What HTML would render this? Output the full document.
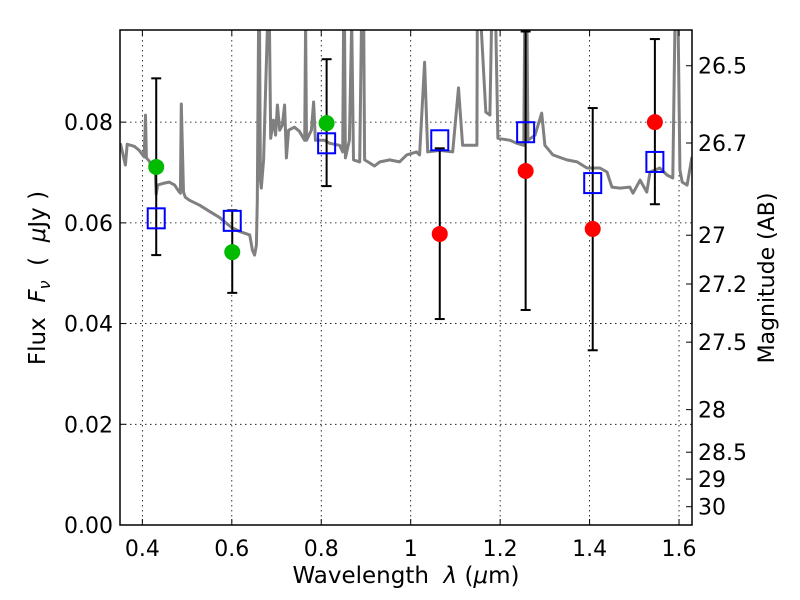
<!DOCTYPE html>
<html><head><meta charset="utf-8"><style>
html,body{margin:0;padding:0;background:#fff;}
svg{display:block;font-family:"DejaVu Sans","Liberation Sans",sans-serif;}
</style></head><body>
<svg id="chart" width="800" height="600" viewBox="0 0 800 600">
<defs><clipPath id="pc"><rect x="120" y="30" width="572" height="495"/></clipPath></defs>
<rect x="0" y="0" width="800" height="600" fill="#fff"/>
<g id="grid"></g>
<g id="spec" clip-path="url(#pc)"></g>
<g id="marks"></g>
<rect x="120" y="30" width="572" height="495" fill="none" stroke="#000" stroke-width="1.5"/>
<g id="axes"></g>
<text x="406" y="583" font-size="23" text-anchor="middle">Wavelength&#160;&#160;<tspan font-style="italic">λ</tspan> (<tspan font-style="italic">μ</tspan>m)</text>
<text transform="translate(45,278) rotate(-90)" font-size="23" text-anchor="middle">Flux&#160;&#160;<tspan font-style="italic">F</tspan><tspan font-style="italic" font-size="16" dy="5">ν</tspan><tspan dy="-5">&#160;&#160;(&#160;&#160;</tspan><tspan font-style="italic">μ</tspan>Jy )</text>
<text transform="translate(774,278) rotate(-90)" font-size="22" text-anchor="middle">Magnitude (AB)</text>
</svg>
<script>
const specLam=[0.351,0.362,0.366,0.382,0.393,0.404,0.407,0.409,0.416,0.422,0.429,0.431,0.434,0.449,0.460,0.472,0.481,0.485,0.487,0.492,0.496,0.505,0.528,0.550,0.572,0.599,0.617,0.640,0.646,0.651,0.655,0.657,0.660,0.662,0.664,0.666,0.671,0.675,0.680,0.684,0.687,0.693,0.698,0.702,0.707,0.713,0.718,0.722,0.727,0.740,0.751,0.763,0.765,0.767,0.778,0.783,0.787,0.807,0.819,0.841,0.848,0.850,0.852,0.854,0.863,0.868,0.872,0.886,0.890,0.895,0.897,0.908,0.919,0.931,0.953,0.975,0.991,1.013,1.020,1.031,1.038,1.065,1.094,1.107,1.116,1.148,1.149,1.157,1.168,1.177,1.181,1.190,1.195,1.222,1.237,1.253,1.255,1.260,1.262,1.278,1.293,1.300,1.318,1.349,1.372,1.394,1.423,1.439,1.450,1.468,1.490,1.497,1.513,1.528,1.535,1.557,1.573,1.586,1.591,1.598,1.602,1.607,1.618,1.629];
const specFlux=[0.0758,0.0715,0.0756,0.0752,0.0744,0.0731,0.0814,0.0729,0.0722,0.0702,0.0697,0.0657,0.0675,0.0679,0.0681,0.0675,0.0663,0.0659,0.0836,0.0661,0.0651,0.0645,0.0635,0.0623,0.0611,0.0591,0.0583,0.0576,0.0546,0.0536,0.0556,0.0645,0.1,0.1,0.0685,0.0669,0.0725,0.0844,0.1,0.1,0.0768,0.0804,0.0774,0.0834,0.0784,0.0794,0.0834,0.0729,0.0784,0.0790,0.0782,0.0764,0.1,0.0764,0.0784,0.0840,0.0764,0.0764,0.0758,0.0754,0.0741,0.1,0.1,0.0729,0.0764,0.1,0.0725,0.0721,0.1,0.1,0.0725,0.0719,0.0713,0.0721,0.0725,0.0721,0.0735,0.0741,0.0735,0.0919,0.0741,0.0744,0.0741,0.0868,0.0754,0.0754,0.1,0.1,0.0820,0.0814,0.1,0.1,0.0768,0.0764,0.0758,0.0754,0.1,0.1,0.0764,0.0774,0.0818,0.0754,0.0735,0.0725,0.0721,0.0709,0.0709,0.0701,0.0671,0.0669,0.0671,0.0659,0.0685,0.0661,0.0701,0.0709,0.0695,0.0689,0.1,0.1,0.0705,0.0681,0.0675,0.0731];
const bandLam=[0.431,0.601,0.812,1.065,1.257,1.407,1.546];
const obsFlux=[0.0711,0.0542,0.0798,0.0578,0.0703,0.0588,0.0800];
const obsColor=["#00bb00","#00bb00","#00bb00","#ff0000","#ff0000","#ff0000","#ff0000"];
const modelFlux=[0.0609,0.0604,0.0758,0.0764,0.0780,0.0679,0.0721];
const errLow=[0.0536,0.0461,0.0673,0.0409,0.0427,0.0347,0.0637];
const errHigh=[0.0887,0.0625,0.0925,0.0748,0.0980,0.0828,0.0965];
const xTicks=[0.4,0.6,0.8,1.0,1.2,1.4,1.6];
const xTickLabels=["0.4","0.6","0.8","1","1.2","1.4","1.6"];
const yTicks=[0,0.02,0.04,0.06,0.08];
const yTickLabels=["0.00","0.02","0.04","0.06","0.08"];
const magTicks=[26.5,26.7,27,27.2,27.5,28,28.5,29,30];
const magTickLabels=["26.5","26.7","27","27.2","27.5","28","28.5","29","30"];

const X0=120,X1=692,Y0=525,Y1=30,LMIN=0.35,LMAX=1.629,FMAX=0.0983;
const sx=l=>X0+(l-LMIN)/(LMAX-LMIN)*(X1-X0);
const sy=f=>Y0-f/FMAX*(Y0-Y1);
const magToFlux=m=>Math.pow(10,(23.9-m)/2.5);
const NS="http://www.w3.org/2000/svg";
function mk(tag,attrs,parent,txt){const e=document.createElementNS(NS,tag);for(const k in attrs)e.setAttribute(k,attrs[k]);if(txt!==undefined)e.textContent=txt;parent.appendChild(e);return e;}
const grid=document.getElementById('grid'),axes=document.getElementById('axes'),spec=document.getElementById('spec'),marks=document.getElementById('marks');

xTicks.forEach((t,i)=>{const x=sx(t);
 const g=mk('line',{x1:x,x2:x,y1:Y1,y2:Y0,stroke:'#000','stroke-width':0.8,'stroke-dasharray':'1.5,3.5'},grid);
 
 
 mk('line',{x1:x,x2:x,y1:Y0,y2:Y0-6,stroke:'#000'},axes);
 mk('line',{x1:x,x2:x,y1:Y1,y2:Y1+6,stroke:'#000'},axes);
 const tl=mk('text',{x:x,y:556,'font-size':22,'text-anchor':'middle'},axes,xTickLabels[i]);
 
 
});
yTicks.forEach((t,i)=>{const y=sy(t);
 if(t>0){const g=mk('line',{x1:X0,x2:X1,y1:y,y2:y,stroke:'#000','stroke-width':0.8,'stroke-dasharray':'1.5,3.5'},grid);
 
 }
 mk('line',{x1:X0,x2:X0+6,y1:y,y2:y,stroke:'#000'},axes);
 const tl=mk('text',{x:113,y:y+8,'font-size':22,'text-anchor':'end'},axes,yTickLabels[i]);
 
 
});
magTicks.forEach((m,i)=>{const y=sy(magToFlux(m));
 mk('line',{x1:X1-6,x2:X1,y1:y,y2:y,stroke:'#000'},axes);
 const tl=mk('text',{x:698,y:y+8,'font-size':22},axes,magTickLabels[i]);
 
 
});

const d=specLam.map((l,i)=>(i?'L':'M')+sx(l).toFixed(1)+','+sy(Math.min(specFlux[i],0.1)).toFixed(1)).join(' ');
const p=mk('path',{d:d,fill:'none',stroke:'#808080','stroke-width':3,'stroke-linejoin':'round'},spec);



bandLam.forEach((l,i)=>{const x=sx(l);
 const e=mk('g',{},marks);
 
 
 mk('line',{x1:x,x2:x,y1:sy(errLow[i]),y2:sy(errHigh[i]),stroke:'#000','stroke-width':2},e);
 mk('line',{x1:x-5,x2:x+5,y1:sy(errLow[i]),y2:sy(errLow[i]),stroke:'#000','stroke-width':2},e);
 mk('line',{x1:x-5,x2:x+5,y1:sy(errHigh[i]),y2:sy(errHigh[i]),stroke:'#000','stroke-width':2},e);
 const c=mk('circle',{cx:x,cy:sy(obsFlux[i]),r:8,fill:obsColor[i]},marks);
 
 
 const s=mk('rect',{x:x-8.5,y:sy(modelFlux[i])-10,width:17,height:20,fill:'none',stroke:'#0000ff','stroke-width':2},marks);
 
 
});
</script>
</body></html>
